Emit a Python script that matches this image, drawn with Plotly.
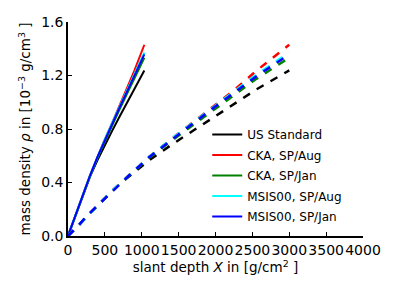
import plotly.graph_objects as go

# vertical depth [g/cm^2] and slant depth [g/cm^2] (same atmospheric levels)
vertical_depth = [0, 50, 100, 150, 200, 250, 300, 400, 500, 600, 700, 800, 900, 1035]
slant_depth = [0, 140, 265, 410, 545, 680, 830, 1105, 1400, 1695, 1982, 2275, 2555, 3000]

# mass density [1e-3 g/cm^3]
rho_us_standard = [0, 0.077, 0.154, 0.230, 0.305, 0.377, 0.446, 0.568, 0.681, 0.788, 0.893, 0.996, 1.096, 1.238]
rho_cka_aug = [0, 0.079, 0.157, 0.234, 0.310, 0.381, 0.455, 0.594, 0.724, 0.848, 0.973, 1.101, 1.236, 1.430]
rho_cka_jan = [0, 0.078, 0.155, 0.231, 0.307, 0.378, 0.452, 0.586, 0.711, 0.830, 0.947, 1.063, 1.175, 1.333]
rho_msis_aug = [0, 0.079, 0.157, 0.234, 0.310, 0.381, 0.455, 0.594, 0.724, 0.848, 0.970, 1.090, 1.207, 1.372]
rho_msis_jan = [0, 0.078, 0.156, 0.232, 0.308, 0.380, 0.454, 0.591, 0.719, 0.842, 0.962, 1.080, 1.195, 1.358]

series_names = ["US Standard", "CKA, SP/Aug", "CKA, SP/Jan", "MSIS00, SP/Aug", "MSIS00, SP/Jan"]
series_values = [rho_us_standard, rho_cka_aug, rho_cka_jan, rho_msis_aug, rho_msis_jan]
series_colors = ["#000000", "#ff0000", "#008000", "#00ffff", "#0000ff"]

x_tick_values = [0, 500, 1000, 1500, 2000, 2500, 3000, 3500, 4000]
x_tick_labels = ["0", "500", "1000", "1500", "2000", "2500", "3000", "3500", "4000"]
y_tick_values = [0.0, 0.4, 0.8, 1.2, 1.6]
y_tick_labels = ["0.0", "0.4", "0.8", "1.2", "1.6"]

fig = go.Figure()
for name, vals, col in zip(series_names, series_values, series_colors):
    fig.add_trace(go.Scatter(x=vertical_depth, y=vals, mode="lines", name=name,
                             legendgroup=name,
                             line=dict(color=col, width=2)))
for name, vals, col in zip(series_names, series_values, series_colors):
    fig.add_trace(go.Scatter(x=slant_depth, y=vals, mode="lines", name=name,
                             legendgroup=name, showlegend=False,
                             line=dict(color=col, width=2.5, dash="8px,8px")))

font = "DejaVu Sans"
fig.update_layout(
    width=395, height=296,
    margin=dict(l=68, r=32, t=22, b=60),
    paper_bgcolor="white", plot_bgcolor="white",
    font=dict(family=font, size=14, color="black"),
    showlegend=True,
    legend=dict(x=0.472, y=0.542, xanchor="left", yanchor="top",
                font=dict(size=12, family=font), bgcolor="rgba(0,0,0,0)",
                tracegroupgap=1.5, itemwidth=30),
    xaxis=dict(range=[0, 4000], tickvals=x_tick_values, ticktext=x_tick_labels,
               tickangle=0, ticks="inside", ticklen=4, automargin=False,
               tickcolor="black", showline=True, linecolor="black", linewidth=1.5,
               showgrid=False, zeroline=False, mirror=False,
               tickfont=dict(size=14),
               title=dict(text="slant depth <i>X</i> in [g/cm<sup>2</sup> ]",
                          font=dict(size=13.5), standoff=6)),
    yaxis=dict(range=[0, 1.6], tickvals=y_tick_values, ticktext=y_tick_labels,
               ticks="inside", ticklen=4, automargin=False,
               tickcolor="black", showline=True,
               linecolor="black", linewidth=1.5, showgrid=False, zeroline=False,
               mirror=False, tickfont=dict(size=14),
               title=dict(text="mass density <i>ρ</i> in [10<sup>−3</sup> g/cm<sup>3</sup> ]",
                          font=dict(size=13.5), standoff=7)),
)
fig.write_html("out.html", config={"displayModeBar": False},
               post_script="document.body.style.margin='0px';document.body.style.padding='0px';")
